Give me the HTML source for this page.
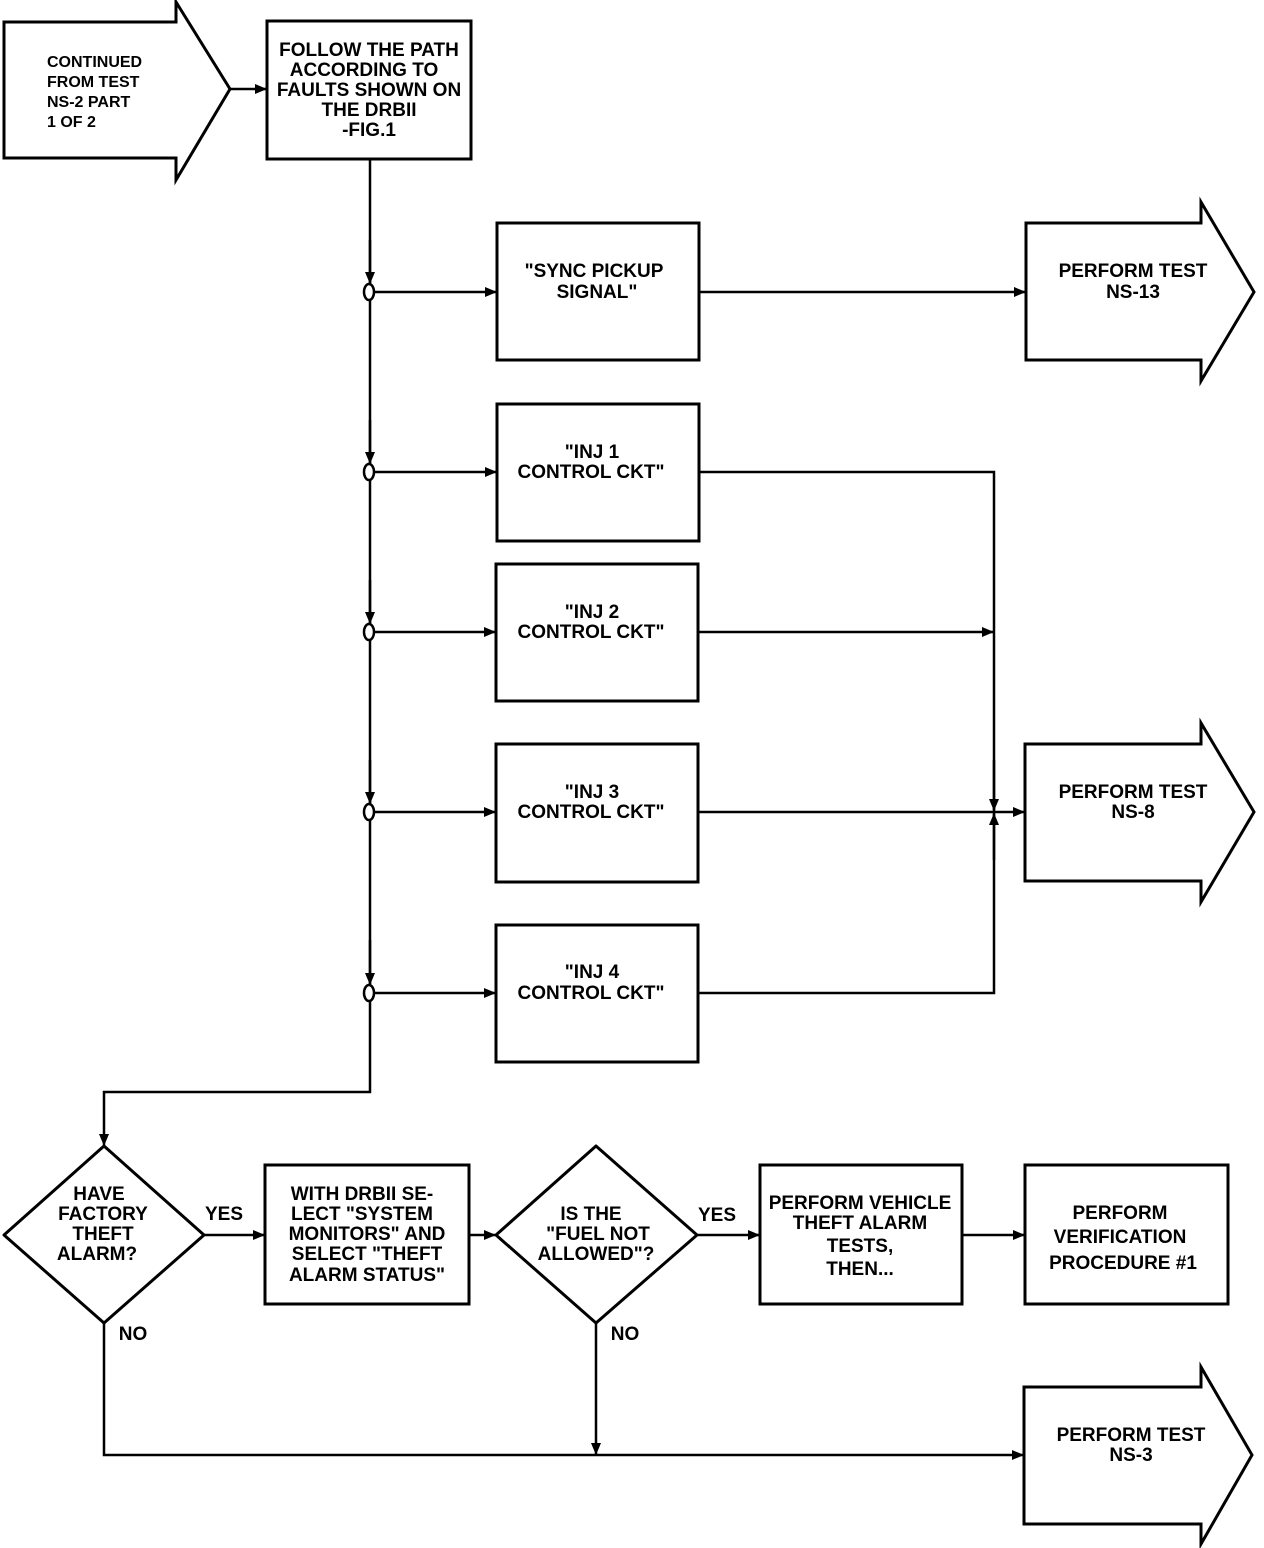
<!DOCTYPE html>
<html><head><meta charset="utf-8"><style>
html,body{margin:0;padding:0;background:#fff;}
svg{display:block}
text{font-family:"Liberation Sans",sans-serif;font-weight:bold;font-size:19px;fill:#000;text-anchor:middle}
.s{font-size:16px;text-anchor:start}
</style></head><body>
<svg width="1264" height="1548" viewBox="0 0 1264 1548" xmlns="http://www.w3.org/2000/svg">
<defs>
<marker id="a" markerWidth="12" markerHeight="10" refX="11" refY="5" orient="auto" markerUnits="userSpaceOnUse">
<path d="M0,0 L12,5 L0,10 Z" fill="#000"/></marker>
</defs>
<g fill="none" stroke="#000" stroke-width="3">
<!-- start arrow -->
<path d="M4,22 H176 V2 L230,89 L176,180 V158 H4 Z"/>
<rect x="267" y="21" width="204" height="138"/>
<!-- boxes -->
<rect x="497" y="223" width="202" height="137"/>
<rect x="497" y="404" width="202" height="137"/>
<rect x="496" y="564" width="202" height="137"/>
<rect x="496" y="744" width="202" height="138"/>
<rect x="496" y="925" width="202" height="137"/>
<!-- perform arrows -->
<path d="M1026,223 H1201 V202 L1254,292 L1201,381 V360 H1026 Z"/>
<path d="M1025,744 H1201 V723 L1254,812 L1201,902 V881 H1025 Z"/>
<path d="M1024,1387 H1201 V1367 L1252,1455 L1201,1544 V1524 H1024 Z"/>
<!-- bottom row -->
<path d="M104,1146 L204,1235 L104,1323 L4,1235 Z" stroke-linejoin="round"/>
<rect x="265" y="1165" width="204" height="139"/>
<path d="M596,1146 L697,1235 L596,1323 L496,1235 Z" stroke-linejoin="round"/>
<rect x="760" y="1165" width="202" height="139"/>
<rect x="1025" y="1165" width="203" height="139"/>
</g>
<g fill="none" stroke="#000" stroke-width="2.5">
<line x1="230" y1="89" x2="266" y2="89" marker-end="url(#a)"/>
<path d="M370,159 V1092 H104 V1145" marker-end="url(#a)"/>
<line x1="370" y1="240" x2="370" y2="283" marker-end="url(#a)"/>
<line x1="370" y1="420" x2="370" y2="463" marker-end="url(#a)"/>
<line x1="370" y1="580" x2="370" y2="623" marker-end="url(#a)"/>
<line x1="370" y1="760" x2="370" y2="803" marker-end="url(#a)"/>
<line x1="370" y1="940" x2="370" y2="984" marker-end="url(#a)"/>
<line x1="374" y1="292" x2="496" y2="292" marker-end="url(#a)"/>
<line x1="374" y1="472" x2="496" y2="472" marker-end="url(#a)"/>
<line x1="374" y1="632" x2="495" y2="632" marker-end="url(#a)"/>
<line x1="374" y1="812" x2="495" y2="812" marker-end="url(#a)"/>
<line x1="374" y1="993" x2="495" y2="993" marker-end="url(#a)"/>
<line x1="699" y1="292" x2="1025" y2="292" marker-end="url(#a)"/>
<path d="M699,472 H994 V993 H698"/>
<line x1="698" y1="632" x2="993" y2="632" marker-end="url(#a)"/>
<line x1="698" y1="812" x2="1024" y2="812" marker-end="url(#a)"/>
<line x1="994" y1="760" x2="994" y2="810" marker-end="url(#a)"/>
<line x1="994" y1="860" x2="994" y2="814" marker-end="url(#a)"/>
<line x1="204" y1="1235" x2="264" y2="1235" marker-end="url(#a)"/>
<line x1="469" y1="1235" x2="495" y2="1235" marker-end="url(#a)"/>
<line x1="697" y1="1235" x2="759" y2="1235" marker-end="url(#a)"/>
<line x1="962" y1="1235" x2="1024" y2="1235" marker-end="url(#a)"/>
<path d="M104,1323 V1455 H1023" marker-end="url(#a)"/>
<line x1="596" y1="1323" x2="596" y2="1454" marker-end="url(#a)"/>
</g>
<g fill="#fff" stroke="#000" stroke-width="2.5">
<ellipse cx="369" cy="292" rx="5" ry="8"/>
<ellipse cx="369" cy="472" rx="5" ry="8"/>
<ellipse cx="369" cy="632" rx="5" ry="8"/>
<ellipse cx="369" cy="812" rx="5" ry="8"/>
<ellipse cx="369" cy="993" rx="5" ry="8"/>
</g>
<text class="s" x="47" y="67">CONTINUED</text>
<text class="s" x="47" y="87">FROM TEST</text>
<text class="s" x="47" y="107">NS-2 PART</text>
<text class="s" x="47" y="127">1 OF 2</text>
<text x="369" y="56">FOLLOW THE PATH</text>
<text x="364" y="76">ACCORDING TO</text>
<text x="369" y="96">FAULTS SHOWN ON</text>
<text x="369" y="116">THE DRBII</text>
<text x="369" y="136">-FIG.1</text>
<text x="594" y="277">"SYNC PICKUP</text>
<text x="597" y="298">SIGNAL"</text>
<text x="1133" y="277">PERFORM TEST</text>
<text x="1133" y="298">NS-13</text>
<text x="592" y="458">"INJ 1</text>
<text x="591" y="478">CONTROL CKT"</text>
<text x="592" y="618">"INJ 2</text>
<text x="591" y="638">CONTROL CKT"</text>
<text x="592" y="798">"INJ 3</text>
<text x="591" y="818">CONTROL CKT"</text>
<text x="592" y="978">"INJ 4</text>
<text x="591" y="999">CONTROL CKT"</text>
<text x="1133" y="798">PERFORM TEST</text>
<text x="1133" y="818">NS-8</text>
<text x="99" y="1200">HAVE</text>
<text x="103" y="1220">FACTORY</text>
<text x="103" y="1240">THEFT</text>
<text x="97" y="1260">ALARM?</text>
<text x="224" y="1220">YES</text>
<text x="133" y="1340">NO</text>
<text x="362" y="1200">WITH DRBII SE-</text>
<text x="362" y="1220">LECT "SYSTEM</text>
<text x="367" y="1240">MONITORS" AND</text>
<text x="367" y="1260">SELECT "THEFT</text>
<text x="367" y="1281">ALARM STATUS"</text>
<text x="591" y="1220">IS THE</text>
<text x="598" y="1240">"FUEL NOT</text>
<text x="596" y="1260">ALLOWED"?</text>
<text x="717" y="1221">YES</text>
<text x="625" y="1340">NO</text>
<text x="860" y="1209">PERFORM VEHICLE</text>
<text x="860" y="1229">THEFT ALARM</text>
<text x="860" y="1252">TESTS,</text>
<text x="860" y="1275">THEN...</text>
<text x="1120" y="1219">PERFORM</text>
<text x="1120" y="1243">VERIFICATION</text>
<text x="1123" y="1269">PROCEDURE #1</text>
<text x="1131" y="1441">PERFORM TEST</text>
<text x="1131" y="1461">NS-3</text>
</svg>
</body></html>
